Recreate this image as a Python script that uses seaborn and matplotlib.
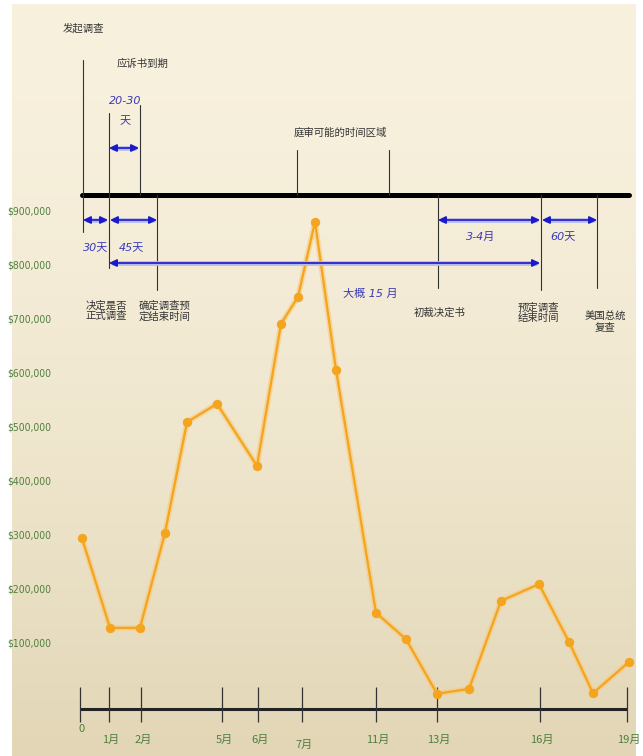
import numpy as np
import matplotlib
matplotlib.use('Agg')
import matplotlib.pyplot as plt
import matplotlib.transforms as mtransforms
import seaborn as sns


# observations along the schematic timeline (layout position, value in $)
obs_pos = [2, 30, 60, 85, 107, 137, 177, 201, 218, 235, 256, 296, 326, 357, 389, 421, 459, 489, 513, 549]
obs_val = [294000, 128000, 128000, 304000, 509000, 543000, 428000, 691000, 741000, 880000,
	606000, 156000, 107000, 6000, 15000, 178000, 209000, 102000, 7000, 65000]

# bottom timeline ticks
tick_pos = [0, 29, 61, 142, 178, 222, 296, 357, 460, 547]
tick_labels = ['0', '1月', '2月', '5月', '6月', '7月', '11月', '13月', '16月', '19月']

y_ticks = [100000, 200000, 300000, 400000, 500000, 600000, 700000, 800000, 900000]

W, H = 643, 756
ORANGE = '#f5a41e'
GREEN = '#4f7f3c'
BLUE = '#1a1ac8'
INK = '#333333'
CJK = ['Noto Sans CJK SC', 'DejaVu Sans']


def px_to_data(py):
	# the value axis: $100,000 per 54 px, zero at 697 px from the top
	return (697 - py) / 54.0 * 100000


def main():
	sns.set_style('white')
	plt.rcParams['font.family'] = CJK

	fig = plt.figure(figsize=(W / 100, H / 100), dpi=100)
	fig.patch.set_facecolor('white')
	tr = mtransforms.Affine2D().scale(1 / W, -1 / H).translate(0, 1) + fig.transFigure

	# cream background with a soft vertical gradient
	bg = fig.add_axes([12 / W, 0, (636 - 12) / W, (H - 4) / H])
	grad = np.linspace(0, 1, 256)[:, None]
	top = np.array([248, 241, 222]) / 255
	bot = np.array([226, 214, 182]) / 255
	img = top + (bot - top) * grad[..., None] ** 1.6
	bg.imshow(img, aspect='auto', extent=[0, 1, 0, 1])
	bg.axis('off')

	ax = fig.add_axes([60 / W, 0, (W - 60) / W, 1])
	ax.patch.set_alpha(0)
	ax.set_xlim(-20, W - 80)
	ax.set_ylim(px_to_data(H), px_to_data(0))

	# the value line
	ax.plot(obs_pos, obs_val, color='#f9c977', lw=4, alpha=0.6, solid_capstyle='round', zorder=3)
	sns.lineplot(x=obs_pos, y=obs_val, ax=ax, color=ORANGE, lw=1.6, marker='o', markersize=6,
		markeredgecolor=ORANGE, sort=False, zorder=4)

	ax.set_yticks(y_ticks)
	ax.set_yticklabels([f'${v:,.0f}' for v in y_ticks], color=GREEN,
		family='DejaVu Sans', fontstretch='condensed', fontsize=7.5)
	ax.tick_params(axis='y', length=0, pad=6)
	ax.set_xticks([])
	for s in ax.spines.values():
		s.set_visible(False)

	# bottom timeline
	base = px_to_data(709)
	ax.hlines(base, tick_pos[0], tick_pos[-1], color='#222222', lw=2.2, zorder=2)
	ax.vlines(tick_pos, px_to_data(722), px_to_data(687), color='#333333', lw=0.9, zorder=2)
	label_y = {'0': 729, '7月': 745}
	for p, lab in zip(tick_pos, tick_labels):
		ax.text(p + 2, px_to_data(label_y.get(lab, 740)), lab, color=GREEN, fontsize=8,
			ha='center', va='center', family=CJK)

	# top process timeline (schematic annotation, figure pixels)
	ax.plot([82, 629], [195, 195], transform=tr, color='black', lw=3.6, zorder=5)
	phase_lines = [(83, 60, 232), (109, 113, 268), (140, 105, 195), (157, 195, 290), (297, 150, 195),
		(389, 150, 195), (438, 195, 288), (541, 195, 290), (597, 195, 288)]
	for x, y0, y1 in phase_lines:
		ax.plot([x, x], [y0, y1], transform=tr, color=INK, lw=0.8, zorder=5)

	spans = [(109, 139, 148), (83, 108, 220), (110, 157, 220), (109, 540, 263), (438, 540, 220), (542, 597, 220)]
	for x0, x1, y in spans:
		ax.plot([x0 + 4, x1 - 4], [y, y], transform=tr, color='#b9b9e8', lw=3.4, zorder=5)
		ax.annotate('', xy=(x1, y), xytext=(x0, y), xycoords=tr, textcoords=tr,
			arrowprops=dict(arrowstyle='<|-|>,head_length=0.45,head_width=0.22', color=BLUE,
				lw=1.2, shrinkA=0, shrinkB=0), zorder=6)

	span_text = [('20-30', 125, 101), ('天', 125, 121), ('30天', 96, 248), ('45天', 131, 248),
		('大概 15 月', 370, 294), ('3-4月', 481, 237), ('60天', 563, 237)]
	for t, x, y in span_text:
		ax.text(x, y, t, transform=tr, color='#3a3ab8', fontsize=8, style='italic',
			ha='center', va='center', family=['DejaVu Sans', 'Noto Sans CJK SC'], zorder=6)

	notes = [('发起调查', 83, 28), ('应诉书到期', 143, 64), ('庭审可能的时间区域', 340, 133),
		('决定是否\n正式调查', 106, 311), ('确定调查预\n定结束时间', 165, 311), ('初裁决定书', 440, 313),
		('预定调查\n结束时间', 538, 313), ('美国总统\n复查', 605, 322)]
	for t, x, y in notes:
		ax.text(x, y, t, transform=tr, color=INK, fontsize=7.5, ha='center', va='center',
			linespacing=1.05, family=CJK, zorder=6)

	fig.savefig('out.png', dpi=100)


if __name__ == '__main__':
	main()
